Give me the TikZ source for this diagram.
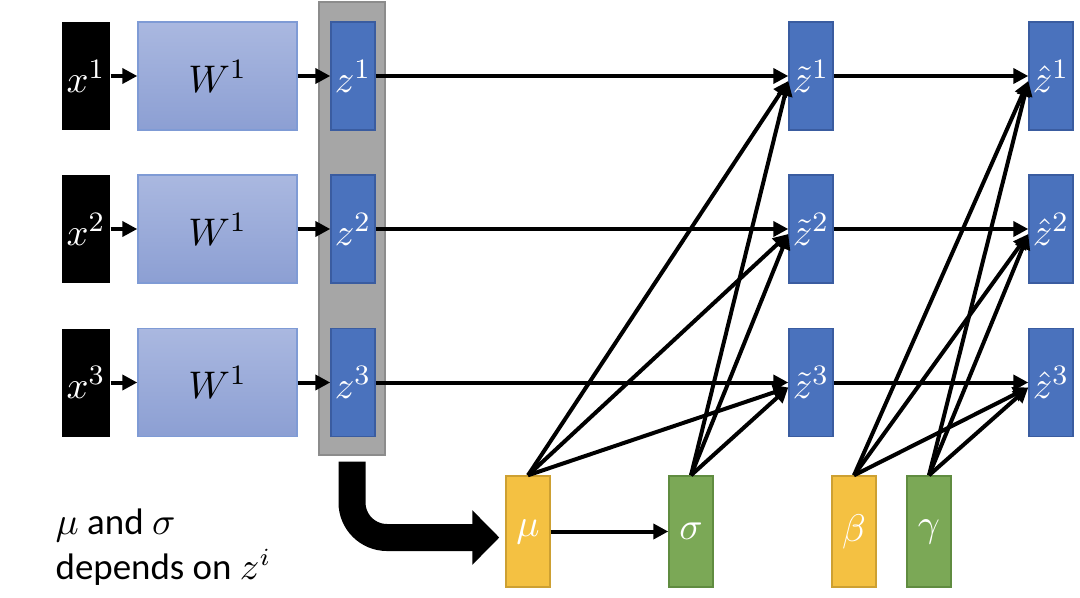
\documentclass[tikz,border=0pt]{standalone}
\usepackage{fontspec}
\setmainfont{Carlito}
\usepackage{tikz}
\usetikzlibrary{arrows.meta,positioning}
\definecolor{zblue}{RGB}{74,114,189}
\definecolor{zedge}{RGB}{58,92,160}
\definecolor{wtop}{RGB}{170,184,224}
\definecolor{wbot}{RGB}{140,159,211}
\definecolor{wedge}{RGB}{127,155,213}
\definecolor{mugold}{RGB}{244,193,66}
\definecolor{muedge}{RGB}{205,160,50}
\definecolor{sggreen}{RGB}{123,168,86}
\definecolor{sgedge}{RGB}{96,140,64}
\definecolor{gbox}{RGB}{166,166,166}
\definecolor{gedge}{RGB}{140,140,140}

\tikzset{
  lbl/.style={font=\fontsize{11}{13}\selectfont, inner sep=0pt},
  xbox/.style={lbl, rectangle, fill=black, text=white, minimum width=0.48cm, minimum height=1.08cm},
  wbox/.style={lbl, rectangle, draw=wedge, top color=wtop, bottom color=wbot, minimum width=1.59cm, minimum height=1.08cm},
  zbox/.style={lbl, rectangle, draw=zedge, fill=zblue, text=white, minimum width=0.44cm, minimum height=1.08cm},
  pbox/.style={lbl, rectangle, text=white, minimum width=0.44cm, minimum height=1.11cm},
  arr/.style={line width=0.04cm, -{Triangle[length=1.5mm,width=1.5mm]}},
}

\begin{document}
\begin{tikzpicture}
    \useasboundingbox (0,0) rectangle (10.8,5.97);
    \def\xx{0.86}
    \def\xw{2.175}
    \def\xz{3.53}
    \def\xt{8.11}
    \def\xh{10.51}
    % grey frame behind the z column
    \node(grey) [rectangle, draw=gedge, fill=gbox, minimum width=0.66cm, minimum height=4.53cm] at (3.52,3.685) {};
    % the three rows
    \foreach \i/\y in {1/5.21, 2/3.68, 3/2.145} {
        \node(x\i) [xbox] at (\xx,\y) {$x^{\i}$};
        \node(w\i) [wbox] at (\xw,\y) {$W^{1}$};
        \node(z\i) [zbox] at (\xz,\y) {$z^{\i}$};
        \node(zt\i) [zbox] at (\xt,\y) {$\tilde{z}^{\i}$};
        \node(zh\i) [zbox] at (\xh,\y) {$\hat{z}^{\i}$};
        \draw[arr] (x\i) -- (w\i);
        \draw[arr] (w\i) -- (z\i.west);
        \draw[arr] (z\i) -- (zt\i.west);
        \draw[arr] (zt\i) -- (zh\i.west);
    }
    \node(mu) [pbox, draw=muedge, fill=mugold] at (5.28,0.655) {$\mu$};
    \node(sigma) [pbox, draw=sgedge, fill=sggreen] at (6.91,0.655) {$\sigma$};
    \node(beta) [pbox, draw=muedge, fill=mugold] at (8.54,0.655) {$\beta$};
    \node(gamma) [pbox, draw=sgedge, fill=sggreen] at (9.29,0.655) {$\gamma$};
    \draw[arr] (mu) -- (sigma);
    \foreach \i in {1,2,3} {
        \draw[arr] (mu.north) -- ([yshift=-0.05cm]zt\i.west);
        \draw[arr] (sigma.north) -- ([yshift=-0.05cm]zt\i.west);
        \draw[arr] (beta.north) -- ([yshift=-0.05cm]zh\i.west);
        \draw[arr] (gamma.north) -- ([yshift=-0.05cm]zh\i.west);
    }
    % big bent arrow
    \draw[line width=0.27cm, rounded corners=0.35cm, -{Triangle[length=0.27cm,width=0.53cm]}]
        ([yshift=-0.06cm]grey.south) |- ([xshift=-0.06cm,yshift=-0.06cm]mu.west);
    \node(note) [anchor=north west, align=left, inner sep=0pt, font=\fontsize{10.5}{10.5}\selectfont] at (0.55,0.89)
        {$\mu$ and $\sigma$\\[0.04cm]depends on $z^{i}$};
\end{tikzpicture}
\end{document}
